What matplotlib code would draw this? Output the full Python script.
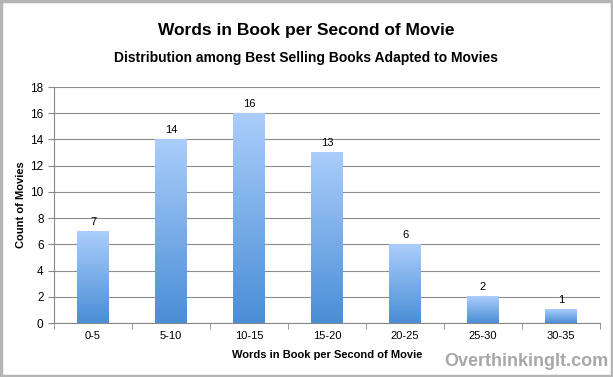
import numpy as np
import matplotlib
matplotlib.use("Agg")
import matplotlib.pyplot as plt
from matplotlib.colors import LinearSegmentedColormap
from matplotlib.patches import Rectangle

categories = ["0-5", "5-10", "10-15", "15-20", "20-25", "25-30", "30-35"]
counts = [7, 14, 16, 13, 6, 2, 1]
y_ticks = [0, 2, 4, 6, 8, 10, 12, 14, 16, 18]

title = "Words in Book per Second of Movie"
subtitle = "Distribution among Best Selling Books Adapted to Movies"
xlabel = "Words in Book per Second of Movie"
ylabel = "Count of Movies"
watermark = "OverthinkingIt.com"

plt.rcParams["font.family"] = ["Liberation Sans", "DejaVu Sans"]

fig = plt.figure(figsize=(6.13, 3.77), dpi=100)
ax = fig.add_axes([0.0881, 0.1432, 0.8907, 0.626])

# gray frame round the whole picture
fig.patches.append(Rectangle((0.002, 0.002), 0.996, 0.996, transform=fig.transFigure,
                             fill=False, edgecolor="#b5b5b5", linewidth=2.5))

grad = LinearSegmentedColormap.from_list("bar", ["#4a8ed6", "#aacdfb"])
width = 0.41
x = np.arange(len(categories))
for xi, v in zip(x, counts):
    g = np.linspace(0, 1, 100).reshape(-1, 1)
    ax.imshow(g, cmap=grad, origin="lower", aspect="auto",
              extent=[xi - width / 2, xi + width / 2, 0, v], zorder=2)
    ax.text(xi, v + 0.35, str(v), ha="center", va="bottom", fontsize=8)

ax.set_xlim(-0.5, len(categories) - 0.5)
ax.set_ylim(0, 18)
ax.set_yticks(y_ticks)
ax.set_xticks(x)
ax.set_xticklabels(categories)
ax.set_xticks(np.arange(len(categories) + 1) - 0.5, minor=True)
ax.tick_params(axis="x", which="major", length=0, labelsize=8, pad=6)
ax.tick_params(axis="x", which="minor", length=4, color="#888888")
ax.tick_params(axis="y", length=4, color="#888888", labelsize=8.5)
ax.yaxis.grid(True, color="#8c8c8c", linewidth=0.8, zorder=0)
ax.set_axisbelow(True)
for s in ["top", "right"]:
    ax.spines[s].set_visible(False)
for s in ["left", "bottom"]:
    ax.spines[s].set_color("#888888")

ax.set_ylabel(ylabel, fontsize=8, fontweight="bold", labelpad=3)
ax.set_xlabel(xlabel, fontsize=8, fontweight="bold", labelpad=6)

fig.text(0.5, 0.918, title, ha="center", va="center", fontsize=12.5,
         fontweight="bold")
fig.text(0.5, 0.845, subtitle, ha="center", va="center", fontsize=10,
         fontweight="bold")
fig.text(0.993, 0.04, watermark, ha="right", va="center", fontsize=13,
         fontweight="bold", color="#a8a8a8")

fig.savefig("out.png", dpi=100)
